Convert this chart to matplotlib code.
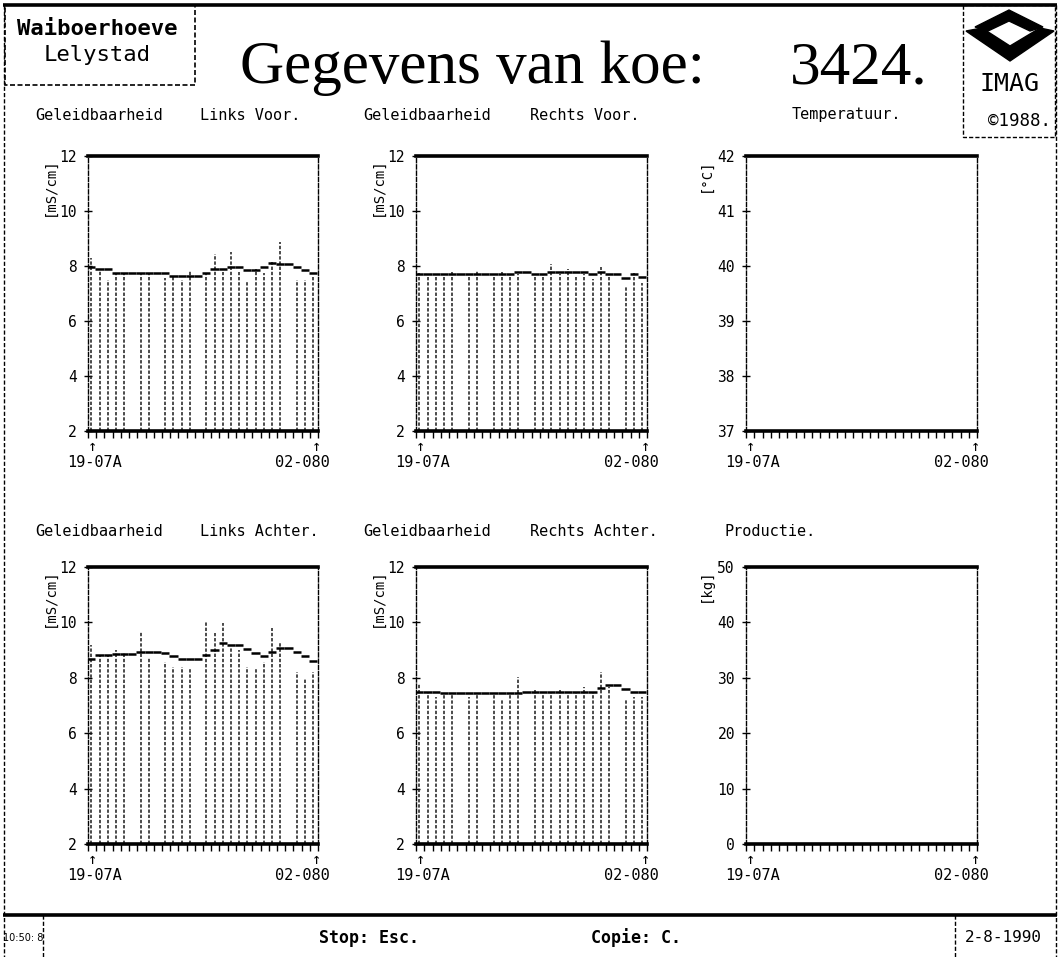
import numpy as np
import matplotlib
matplotlib.use("Agg")
import matplotlib.pyplot as plt
from matplotlib.patches import Polygon, Rectangle

# ---------------- data ----------------
n_slots = 28                      # 14 days x 2 milkings (19-07 avond .. 02-08 ochtend)
date_first = "19-07A"
date_last = "02-080"
nan = np.nan

lv_meas = [8.30, 7.88, 7.49, 7.73, 7.73, nan, 7.73, 7.73, nan, 7.55, 7.64, 7.49, 7.83, nan,
           7.73, 8.44, 7.79, 8.52, 7.79, 7.43, 7.88, 7.73, 8.16, 8.88, nan, 7.50, 7.50, 7.60]
lv_trend = [7.95, 7.88, 7.88, 7.73, 7.73, 7.73, 7.73, 7.73, 7.73, 7.73, 7.65, 7.65, 7.65, 7.65,
            7.75, 7.88, 7.88, 7.98, 7.98, 7.85, 7.85, 7.95, 8.10, 8.06, 8.06, 7.95, 7.85, 7.75]

rv_meas = [7.75, 7.59, 7.61, 7.61, 7.77, nan, 7.61, 7.85, nan, 7.61, 7.77, 7.70, 7.70, nan,
           7.61, 7.70, 8.07, 7.70, 7.88, 7.59, 7.70, 7.52, 7.95, 7.70, nan, 7.25, 7.73, 7.39]
rv_trend = [7.70, 7.70, 7.70, 7.70, 7.70, 7.70, 7.70, 7.70, 7.70, 7.70, 7.70, 7.70, 7.80, 7.80,
            7.70, 7.70, 7.77, 7.77, 7.77, 7.77, 7.77, 7.70, 7.77, 7.70, 7.70, 7.55, 7.70, 7.60]

la_meas = [9.18, 8.82, 8.82, 9.00, 8.94, nan, 9.66, 8.76, nan, 8.58, 8.40, 8.40, 8.30, nan,
           10.06, 9.60, 9.97, 9.06, 9.00, 8.40, 8.30, 8.58, 9.78, 9.24, nan, 8.22, 7.98, 8.22]
la_trend = [8.67, 8.82, 8.82, 8.86, 8.86, 8.86, 8.94, 8.94, 8.94, 8.88, 8.78, 8.67, 8.67, 8.67,
            8.82, 9.00, 9.27, 9.19, 9.19, 9.05, 8.88, 8.78, 8.94, 9.07, 9.07, 8.94, 8.78, 8.62]

ra_meas = [7.80, 7.44, 7.30, 7.38, 7.38, nan, 7.32, 7.38, nan, 7.38, 7.20, 7.44, 8.04, nan,
           7.58, 7.42, 7.44, 7.58, 7.42, 7.47, 7.68, 7.47, 8.22, 7.68, nan, 7.22, 7.32, 7.32]
ra_trend = [7.48, 7.48, 7.48, 7.44, 7.44, 7.44, 7.44, 7.44, 7.44, 7.44, 7.44, 7.44, 7.44, 7.50,
            7.50, 7.50, 7.50, 7.50, 7.50, 7.50, 7.50, 7.50, 7.62, 7.74, 7.74, 7.60, 7.50, 7.50]

cond_ticks = [2, 4, 6, 8, 10, 12]
temp_ticks = [37, 38, 39, 40, 41, 42]
prod_ticks = [0, 10, 20, 30, 40, 50]

# ---------------- figure ----------------
W, H = 1060, 957
fig = plt.figure(figsize=(W / 100, H / 100), dpi=100)
MONO = "DejaVu Sans Mono"
SERIF = "Liberation Serif"

# overlay in pixel coordinates for page decoration
ov = fig.add_axes([0, 0, 1, 1], zorder=0)
ov.set_xlim(0, W)
ov.set_ylim(H, 0)
ov.set_axis_off()

def line(xs, ys, lw=1.0, ls="-"):
    ov.plot(xs, ys, color="black", lw=lw, ls=ls, solid_capstyle="butt")

dash = (0, (3, 1.5))
line([3, 1057], [5, 5], lw=2.6)
line([4, 4], [5, 957], lw=1.0, ls=dash)
line([1056, 1056], [5, 957], lw=1.0, ls=dash)
ov.add_patch(Rectangle((5, 5), 190, 80, fill=False, lw=1.2, ec="black", ls=dash))
ov.add_patch(Rectangle((963, 5), 92, 132, fill=False, lw=1.0, ec="black", ls=dash))
line([3, 1057], [915, 915], lw=2.6)
line([43, 43], [915, 957], lw=1.0, ls=dash)
line([955, 955], [915, 957], lw=1.0, ls=dash)

# IMAG logo
ov.add_patch(Polygon([(975, 27), (1009, 10), (1043, 27), (1030, 31), (1009, 21), (988, 31)],
                     closed=True, fc="black", ec="black"))
ov.add_patch(Polygon([(966, 31), (982, 28), (1010, 46), (1040, 28), (1054, 31), (1010, 61)],
                     closed=True, fc="black", ec="black"))
ov.text(1010, 84, "IMAG", fontsize=18, family=MONO, ha="center", va="center")
ov.text(1019, 121, "©1988.", fontsize=12.5, family=MONO, ha="center", va="center")

# header
ov.text(97, 29, "Waiboerhoeve", fontsize=16, family=MONO, weight="bold", ha="center", va="center")
ov.text(97, 55, "Lelystad", fontsize=16, family=MONO, ha="center", va="center")
ov.text(240, 83, "Gegevens van koe:", fontsize=44, family=SERIF, ha="left", va="baseline")
ov.text(790, 83, "3424.", fontsize=44, family=SERIF, ha="left", va="baseline")

# footer
ov.text(23, 938, "10:50: 8", fontsize=7, family="DejaVu Sans", ha="center", va="center")
ov.text(369, 938, "Stop: Esc.", fontsize=12, family=MONO, weight="bold", ha="center", va="center")
ov.text(636, 938, "Copie: C.", fontsize=12, family=MONO, weight="bold", ha="center", va="center")
ov.text(1003, 938, "2-8-1990", fontsize=11.5, family=MONO, ha="center", va="center")

# panel titles
ttl = dict(fontsize=11, family=MONO, ha="left", va="center")
ov.text(35, 115, "Geleidbaarheid", **ttl)
ov.text(200, 115, "Links Voor.", **ttl)
ov.text(363, 115, "Geleidbaarheid", **ttl)
ov.text(530, 115, "Rechts Voor.", **ttl)
ov.text(792, 115, "Temperatuur.", **ttl)
ov.text(35, 531, "Geleidbaarheid", **ttl)
ov.text(200, 531, "Links Achter.", **ttl)
ov.text(363, 531, "Geleidbaarheid", **ttl)
ov.text(530, 531, "Rechts Achter.", **ttl)
ov.text(724, 531, "Productie.", **ttl)

# unit labels
ul = dict(fontsize=10, family=MONO, rotation=90, ha="center", va="top")
ov.text(50, 157, "[mS/cm]", **ul)
ov.text(378, 157, "[mS/cm]", **ul)
ov.text(50, 568, "[mS/cm]", **ul)
ov.text(378, 568, "[mS/cm]", **ul)
ov.text(706, 158, "[°C]", **ul)
ov.text(706, 568, "[kg]", **ul)

cols = [(88, 318), (416, 647), (746, 977)]
rows = [(156, 431), (567, 844)]

def make_axes(col, row):
    x0, x1 = cols[col]
    y0, y1 = rows[row]
    ax = fig.add_axes([x0 / W, 1 - y1 / H, (x1 - x0) / W, (y1 - y0) / H], zorder=2)
    ax.patch.set_alpha(0)
    ax.set_xlim(0, n_slots)
    for s in ("left", "right"):
        ax.spines[s].set_linestyle(dash)
        ax.spines[s].set_linewidth(1.0)
    for s in ("top", "bottom"):
        ax.spines[s].set_linewidth(2.6)
    ax.set_xticks(np.arange(0, n_slots + 1))
    ax.set_xticklabels([])
    ax.tick_params(axis="x", direction="out", length=5, width=1.0)
    ax.tick_params(axis="y", direction="inout", length=6, width=1.0, pad=5,
                   labelsize=10.5)
    # date markers
    ax.annotate("↑", xy=(0, 0), xycoords=("data", "axes fraction"), xytext=(3, -11),
                textcoords="offset points", ha="center", va="center", fontsize=11, family=MONO)
    ax.annotate("↑", xy=(n_slots, 0), xycoords=("data", "axes fraction"), xytext=(-1, -11),
                textcoords="offset points", ha="center", va="center", fontsize=11, family=MONO)
    ax.annotate(date_first, xy=(0, 0), xycoords=("data", "axes fraction"), xytext=(4.5, -23),
                textcoords="offset points", ha="center", va="center", fontsize=11, family=MONO)
    ax.annotate(date_last, xy=(n_slots, 0), xycoords=("data", "axes fraction"), xytext=(-11, -23),
                textcoords="offset points", ha="center", va="center", fontsize=11, family=MONO)
    return ax

def cond_panel(col, row, meas, trend):
    ax = make_axes(col, row)
    ax.set_ylim(2, 12)
    ax.set_yticks(cond_ticks)
    ax.set_yticklabels([str(t) for t in cond_ticks], family=MONO)
    xs = np.arange(n_slots) + 0.4
    m = np.array(meas, dtype=float)
    ok = ~np.isnan(m)
    ax.vlines(xs[ok], 2, m[ok], colors="#1a1a1a", lw=1.1, linestyles=[(0, (2.2, 1.2))])
    t = np.array(trend, dtype=float)
    ax.hlines(t, xs - 0.5, xs + 0.5, colors="black", lw=1.8)
    return ax

cond_panel(0, 0, lv_meas, lv_trend)
cond_panel(1, 0, rv_meas, rv_trend)
cond_panel(0, 1, la_meas, la_trend)
cond_panel(1, 1, ra_meas, ra_trend)

axt = make_axes(2, 0)
axt.set_ylim(temp_ticks[0], temp_ticks[-1])
axt.set_yticks(temp_ticks)
axt.set_yticklabels([str(t) for t in temp_ticks], family=MONO)

axp = make_axes(2, 1)
axp.set_ylim(prod_ticks[0], prod_ticks[-1])
axp.set_yticks(prod_ticks)
axp.set_yticklabels([str(t) for t in prod_ticks], family=MONO)

fig.savefig("out.png", dpi=100, facecolor="white")
